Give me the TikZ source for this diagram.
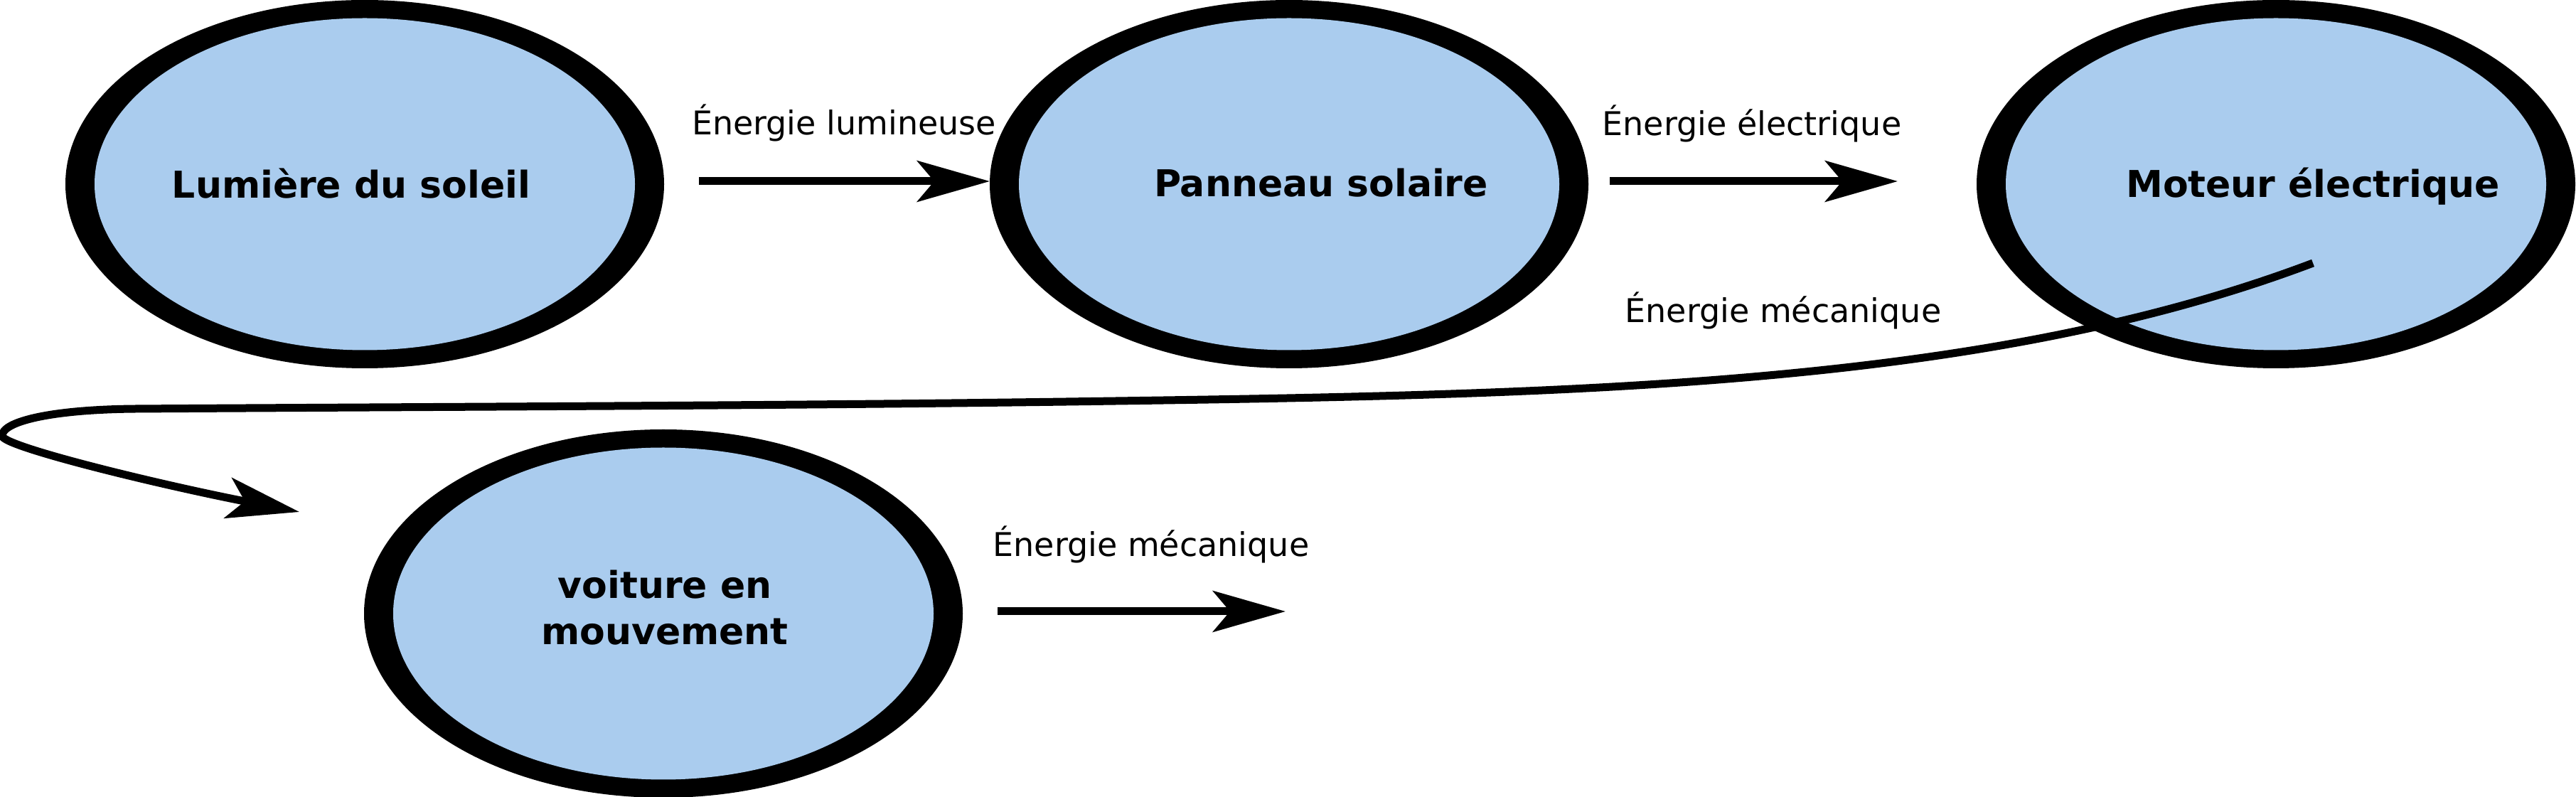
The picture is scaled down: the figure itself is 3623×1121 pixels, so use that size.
\documentclass[tikz,border=0pt]{standalone}
\usepackage{fontspec}
\setmainfont{DejaVu Sans}
\usetikzlibrary{arrows.meta,shapes.geometric,calc}
\definecolor{nodeblue}{RGB}{170,204,238}
\begin{document}
\begin{tikzpicture}[x=0.25pt,y=-0.25pt,
  outerell/.style={ellipse, fill=black, draw=none, inner sep=0pt, outer sep=0pt, minimum width=210.5pt, minimum height=129.5pt},
  innerell/.style={ellipse, fill=nodeblue, draw=none, inner sep=0pt, outer sep=0pt, minimum width=190pt, minimum height=116.75pt},
  title/.style={anchor=base, inner sep=0pt, font=\bfseries\fontsize{13}{16.25}\selectfont, align=center},
  lbl/.style={anchor=base, inner sep=0pt, font=\fontsize{11.5}{14}\selectfont},
  arr/.style={line width=2.75pt, -{Stealth[length=25.5pt, width=14.4pt, inset=6pt]}},
]
\useasboundingbox (0,0) rectangle (3623,1121);

% states
\node[outerell] (lum) at (513,259) {};
\node[innerell] (lumin) at (lum.center) {};
\node[title] (lumt) at (494,279) {Lumière du soleil};

\node[outerell] (pan) at (1813,259) {};
\node[innerell] (panin) at (pan.center) {};
\node[title] (pant) at (1858,277) {Panneau solaire};

\node[outerell] (mot) at (3201,259) {};
\node[innerell] (motin) at (mot.center) {};
\node[title] (mott) at (3253,278) {Moteur électrique};

\node[outerell] (voi) at (933,863) {};
\node[innerell] (voiin) at (voi.center) {};
\node[title] (voit) at (935,907) {voiture en\\mouvement};

% labels
\node[lbl] (l1) at (1187,190) {Énergie lumineuse};
\node[lbl] (l2) at (2464,191) {Énergie électrique};
\node[lbl] (l3) at (2508,454) {Énergie mécanique};
\node[lbl] (l4) at (1619,783) {Énergie mécanique};

% connectors
\coordinate (a1s) at (983,255);
\draw[arr] (a1s) -- (a1s -| pan.west);

\coordinate (a2s) at (2264,255);
\coordinate (a2e) at (2669,255);
\draw[arr] (a2s) -- (a2e);

\coordinate (a3s) at (1403,860);
\coordinate (a3e) at (1808,860);
\draw[arr] (a3s) -- (a3e);

\coordinate (cs) at (3253,370);
\coordinate (ce) at (421,720);
\draw[arr] (cs) .. controls (2785.5,547) and (2200,555) .. (1500,565)
  .. controls (1064,571) and (627,572) .. (191,575)
  .. controls (71,576) and (3,593) .. (3,613)
  .. controls (3,628) and (224.6,681.8) .. (ce);
\end{tikzpicture}
\end{document}
